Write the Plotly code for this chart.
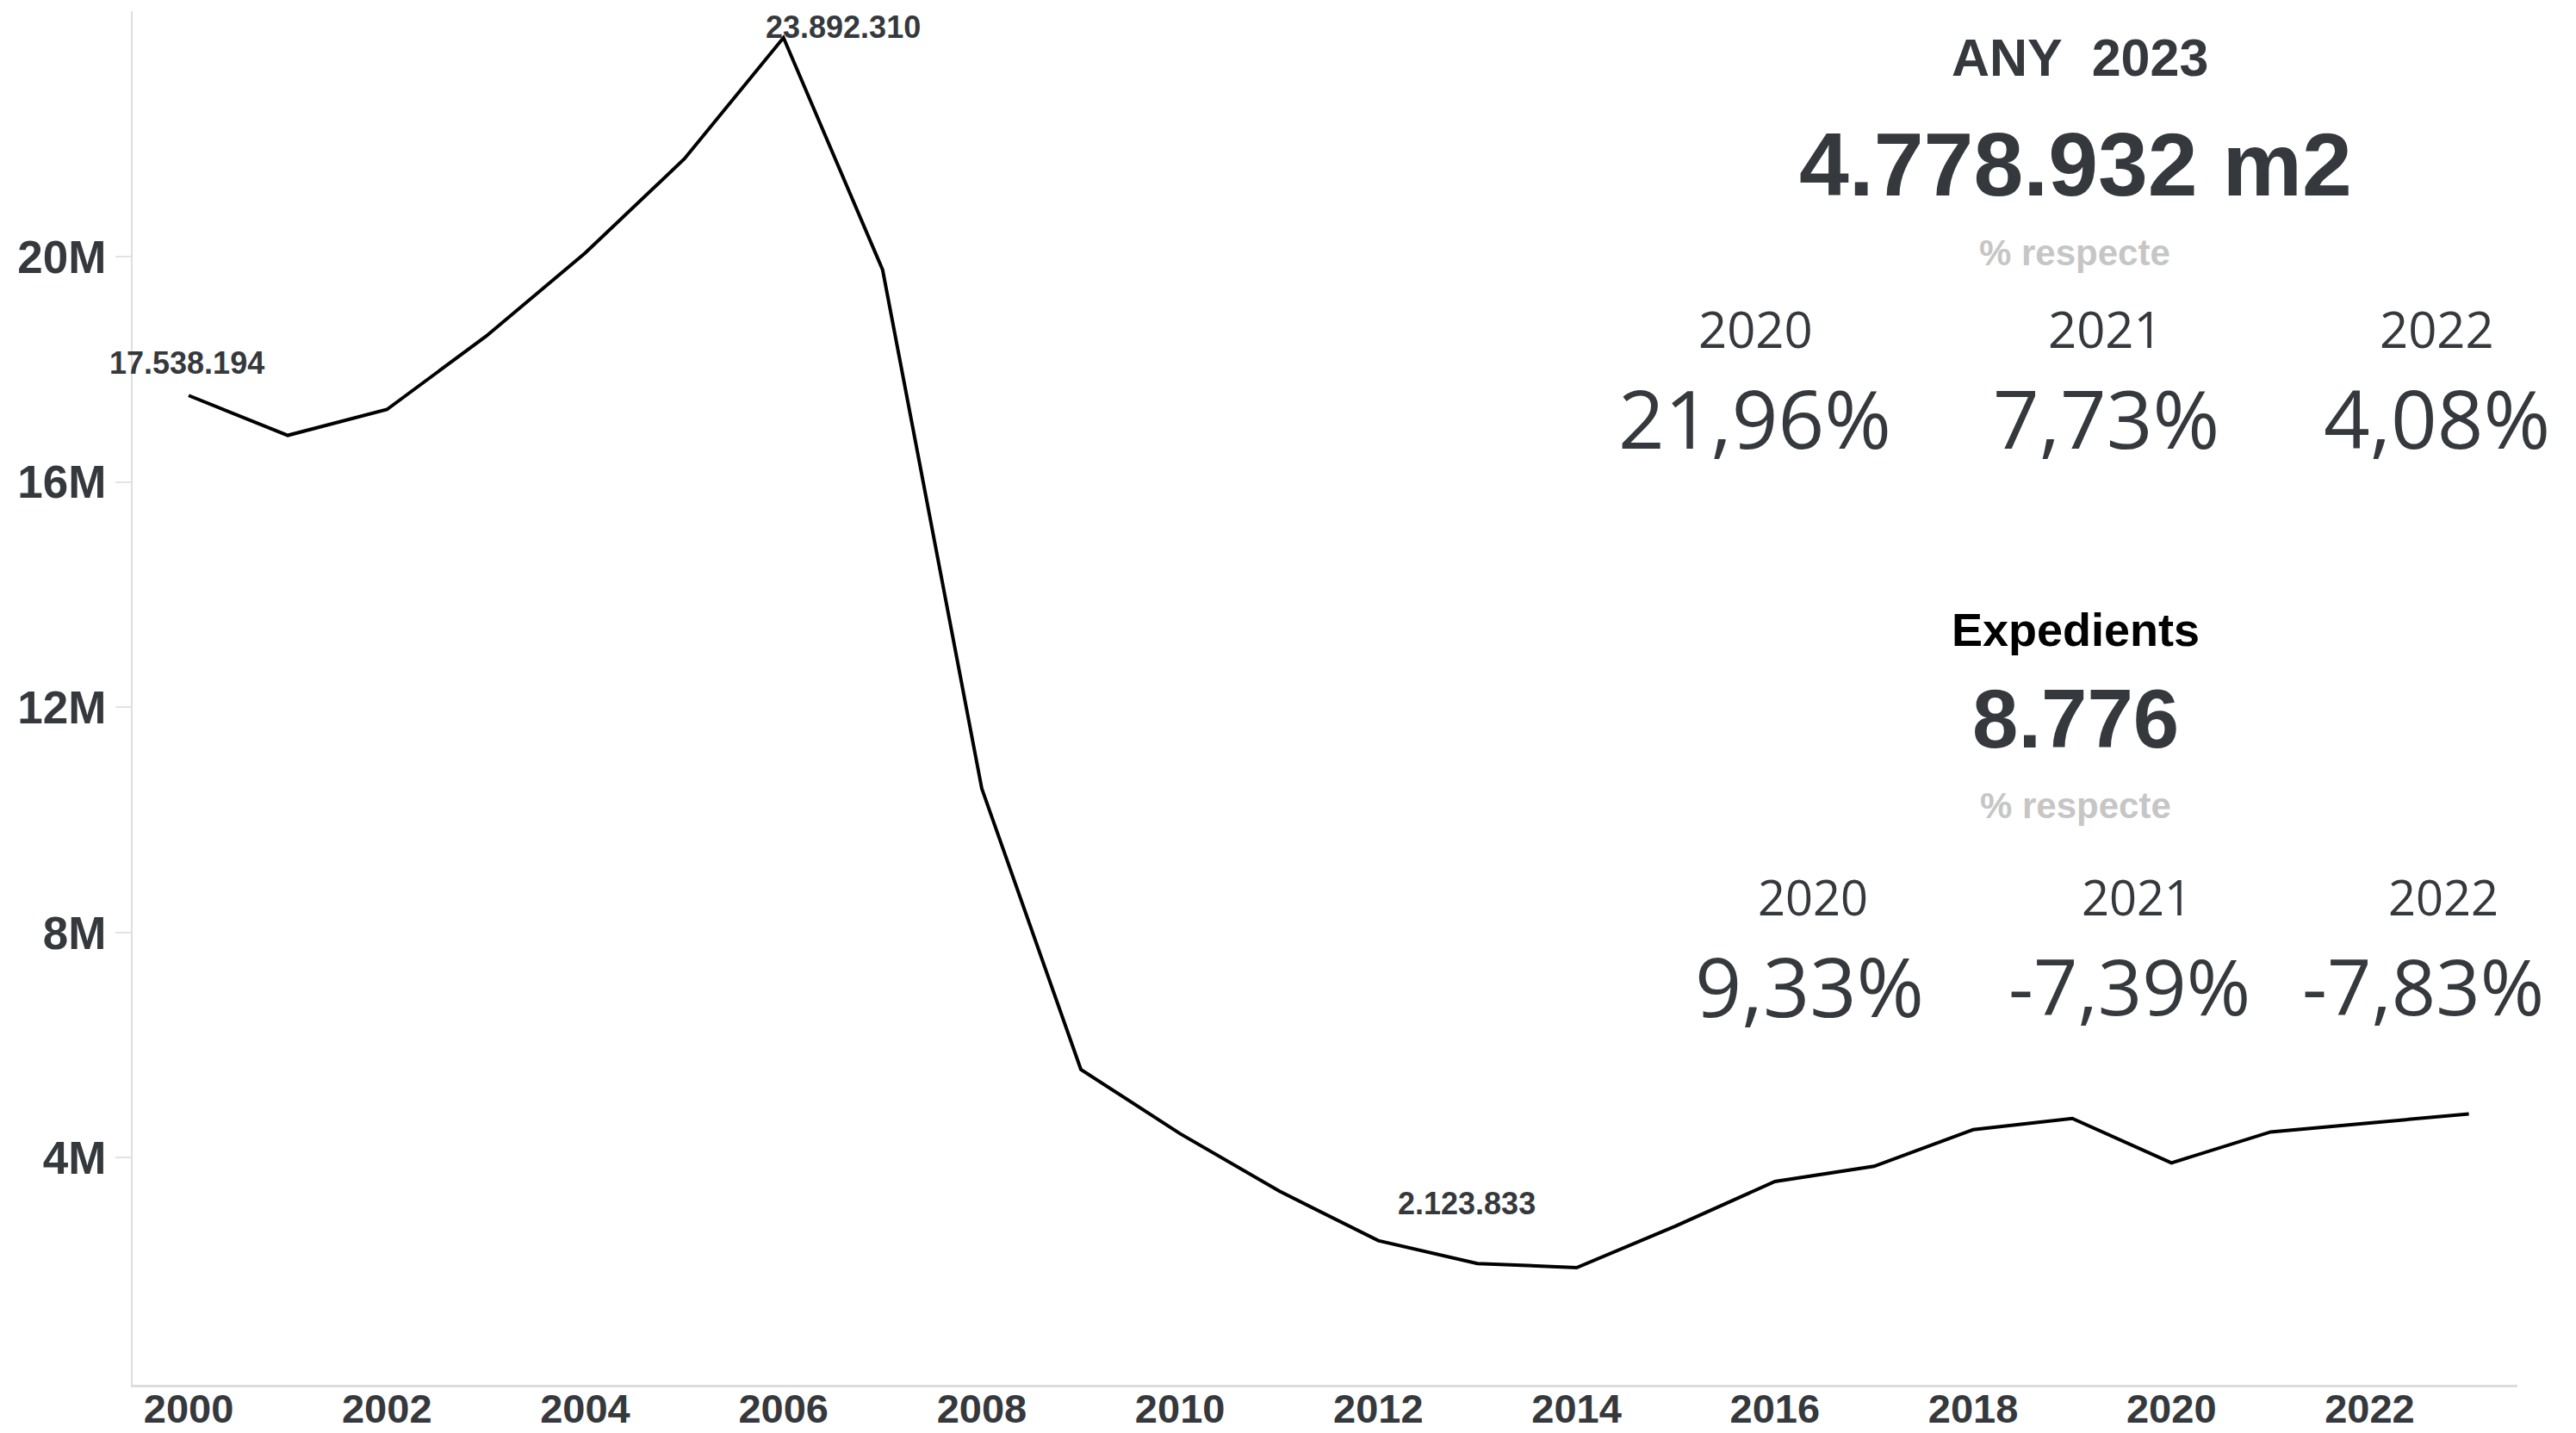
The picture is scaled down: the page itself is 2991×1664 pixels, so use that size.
import plotly.graph_objects as go

# ---------------- data ----------------
years = list(range(2000, 2024))
surface_m2 = [17538194, 16830000, 17290000, 18590000, 20070000, 21740000,
              23892310, 19770000, 10560000, 5570000, 4430000, 3410000,
              2530000, 2123833, 2050000, 2790000, 3580000, 3850000,
              4500000, 4700000, 3910000, 4460000, 4620000, 4778932]

labelled_years = [2000, 2006, 2013]
label_texts = ["17.538.194", "23.892.310", "2.123.833"]

y_tick_vals = [4e6, 8e6, 12e6, 16e6, 20e6]
y_tick_text = ["4M", "8M", "12M", "16M", "20M"]
x_tick_vals = list(range(2000, 2023, 2))

kpi1_title = "ANY\u00a0\u00a02023"
kpi1_value = "4.778.932 m2"
kpi_sub = "% respecte"
kpi_years = ["2020", "2021", "2022"]
kpi1_pcts = ["21,96%", "7,73%", "4,08%"]
kpi2_title = "Expedients"
kpi2_value = "8.776"
kpi2_pcts = ["9,33%", "-7,39%", "-7,83%"]

# ---------------- layout geometry (page px) ----------------
W, H = 2991, 1664
PL, PR, PT, PB = 154, 2923, 13, 1608  # plot area


def paper(x, y):
    return (x - PL) / (PR - PL), 1 - (y - PT) / (PB - PT)


DARK = "#35393d"
ARIAL = "Liberation Sans"
OPEN = "Open Sans"

fig = go.Figure()
fig.add_trace(go.Scatter(x=years, y=surface_m2, mode="lines",
                         line=dict(color="#000000", width=4),
                         hoverinfo="skip"))

annotations = []
label_shifts = [(-2, 38), (69, 12), (-12, 70)]
for yr, txt, (dx, dy) in zip(labelled_years, label_texts, label_shifts):
    annotations.append(dict(
        x=yr, y=surface_m2[years.index(yr)], xref="x", yref="y",
        text=txt, showarrow=False, xshift=dx, yshift=dy,
        xanchor="center", yanchor="middle",
        font=dict(family=ARIAL, size=36, color=DARK, weight="bold")))


def add_text(text, x, y, size, family, color=DARK, weight="normal"):
    xp, yp = paper(x, y)
    annotations.append(dict(
        x=xp, y=yp, xref="paper", yref="paper", text=text,
        showarrow=False, xanchor="center", yanchor="middle",
        font=dict(family=family, size=size, color=color, weight=weight)))


add_text(kpi1_title, 2415, 67, 61, ARIAL, weight="bold")
add_text(kpi1_value, 2410, 191, 104, ARIAL, weight="bold")
add_text(kpi_sub, 2409, 293, 42, ARIAL, color="#c6c6c6", weight="bold")
for yr, xc in zip(kpi_years, [2038, 2444, 2829]):
    add_text(yr, xc, 381, 58, OPEN)
for pct, xc in zip(kpi1_pcts, [2037, 2445, 2829]):
    add_text(pct, xc, 485, 94, OPEN)

add_text(kpi2_title, 2410, 731, 54, ARIAL, color="#000000", weight="bold")
add_text(kpi2_value, 2410, 834, 96, ARIAL, weight="bold")
add_text(kpi_sub, 2410, 936, 42, ARIAL, color="#c6c6c6", weight="bold")
for yr, xc in zip(kpi_years, [2105, 2481, 2837]):
    add_text(yr, xc, 1041, 56, OPEN)
for pct, xc, sz in zip(kpi2_pcts, [2101, 2472, 2813], [95, 90, 90]):
    add_text(pct, xc, 1144, sz, OPEN)

fig.update_layout(
    autosize=True,
    margin=dict(l=PL, r=W - PR, t=PT, b=H - PB, pad=0),
    paper_bgcolor="white", plot_bgcolor="white",
    showlegend=False,
    annotations=annotations,
    xaxis=dict(range=[1999.435, 2023.49], tickvals=x_tick_vals,
               automargin=False,
               showgrid=False, zeroline=False, showline=True,
               linecolor="#dcdcdc", linewidth=3, ticks="",
               ticklabelstandoff=-15,
               tickfont=dict(family=ARIAL, size=47, color=DARK, weight="bold")),
    yaxis=dict(range=[-0.03e6, 24.363e6], tickvals=y_tick_vals,
               ticktext=y_tick_text, automargin=False,
               showgrid=False, zeroline=False,
               showline=True, linecolor="#dedede", linewidth=2,
               ticks="outside", ticklen=18, tickcolor="#e3e3e3", tickwidth=2,
               tickfont=dict(family=ARIAL, size=53, color=DARK, weight="bold")),
)

fig.write_html(
    "out.html",
    config={"displayModeBar": False},
    default_width="100vw",
    default_height="100vh",
    post_script="document.documentElement.style.overflow='hidden';"
                "document.body.style.margin='0';"
                "document.body.style.overflow='hidden';",
)
